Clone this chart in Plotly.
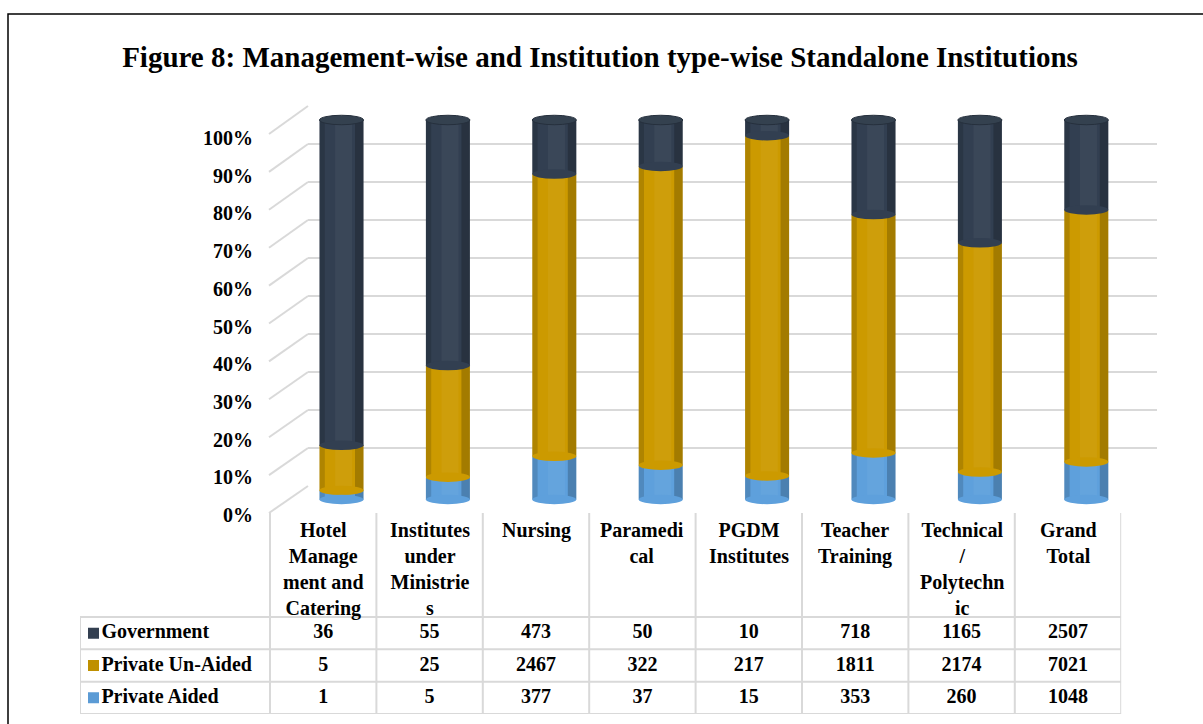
import plotly.graph_objects as go

# ---------------- data ----------------
categories = [
    "Hotel<br>Manage<br>ment and<br>Catering",
    "Institutes<br>under<br>Ministrie<br>s",
    "Nursing",
    "Paramedi<br>cal",
    "PGDM<br>Institutes",
    "Teacher<br>Training",
    "Technical<br>/<br>Polytechn<br>ic",
    "Grand<br>Total",
]
series_names = ["Government", "Private Un-Aided", "Private Aided"]
government = [36, 55, 473, 50, 10, 718, 1165, 2507]
private_unaided = [5, 25, 2467, 322, 217, 1811, 2174, 7021]
private_aided = [1, 5, 377, 37, 15, 353, 260, 1048]
pct_ticks = list(range(0, 101, 10))
pct_tick_labels = [f"{v}%" for v in pct_ticks]
title_text = "Figure 8: Management-wise and Institution type-wise Standalone Institutions"

# ---------------- styling / geometry ----------------
W, H = 1203, 724
FONT = "Liberation Serif"
bar_colors = {"Government": "#323F51", "Private Un-Aided": "#CC9A00", "Private Aided": "#5EA0DC"}
legend_colors = {"Government": "#333F50", "Private Un-Aided": "#BF9000", "Private Aided": "#5B9BD5"}
GRID = "#D9D9D9"


def fx(p):
    return p / W


def fy(p):
    return 1 - p / H


values = {"Government": government, "Private Un-Aided": private_unaided, "Private Aided": private_aided}
n = len(categories)
idx = list(range(n))
totals = [sum(values[s][i] for s in series_names) for i in idx]
pct = {s: [100.0 * values[s][i] / totals[i] for i in idx] for s in series_names}
stack_order = list(reversed(series_names))  # bottom -> top

# pixel geometry of the pseudo-3D chart
wall_left, wall_right = 308, 1157
wall_y0, wall_y100 = 486, 106
front_x = 269
front_y0, front_y100 = 513, 134
label_y0, label_y100 = 515, 138
bar_y0, bar_y100 = 499.5, 120
col_w = 106.4
table_left, table_first_col, table_top, table_hdr_bottom, table_bottom = 80, 270, 513, 617, 714
bar_center0 = 341.5
BW = 44 / col_w

fig = go.Figure()

# back wall (gridlines) subplot
fig.add_trace(go.Scatter(x=[], y=[], xaxis="x", yaxis="y", showlegend=False, hoverinfo="skip"))

# bars
cum = [0.0] * n
bases = {}
for s in stack_order:
    bases[s] = cum[:]
    fig.add_trace(go.Bar(
        x=idx, y=pct[s], base=cum[:], width=BW, marker=dict(color=bar_colors[s], line=dict(width=0)),
        xaxis="x2", yaxis="y2", showlegend=False, name=s, hoverinfo="skip"))
    # cylinder shading strips
    fig.add_trace(go.Bar(
        x=idx, y=pct[s], base=cum[:], width=0.05, offset=-BW / 2,
        marker=dict(color="rgba(0,0,0,0.14)", line=dict(width=0)),
        xaxis="x2", yaxis="y2", showlegend=False, hoverinfo="skip"))
    fig.add_trace(go.Bar(
        x=idx, y=pct[s], base=cum[:], width=0.08, offset=BW / 2 - 0.08,
        marker=dict(color="rgba(0,0,0,0.2)", line=dict(width=0)),
        xaxis="x2", yaxis="y2", showlegend=False, hoverinfo="skip"))
    fig.add_trace(go.Bar(
        x=idx, y=pct[s], base=cum[:], width=0.16, offset=-0.06,
        marker=dict(color="rgba(255,255,255,0.045)", line=dict(width=0)),
        xaxis="x2", yaxis="y2", showlegend=False, hoverinfo="skip"))
    cum = [cum[i] + pct[s][i] for i in idx]

# front-plane percentage labels
fig.add_trace(go.Scatter(x=[], y=[], xaxis="x2", yaxis="y3", showlegend=False, hoverinfo="skip"))

# table: values
for k, s in enumerate(series_names):
    row_y = len(series_names) - k - 0.5
    fig.add_trace(go.Scatter(
        x=idx, y=[row_y] * n, text=[str(v) for v in values[s]], mode="text",
        textfont=dict(family=FONT, size=20, color="black", weight="bold"),
        xaxis="x4", yaxis="y4", showlegend=False, hoverinfo="skip"))

x4_min = -0.5 - (table_first_col - table_left) / col_w
row_px = (table_bottom - table_hdr_bottom) / len(series_names)
y4_max = len(series_names) + (table_hdr_bottom - table_top) / row_px
marker_x = x4_min + 13.5 / col_w
for k, s in enumerate(series_names):
    row_y = len(series_names) - k - 0.5
    fig.add_trace(go.Scatter(
        x=[marker_x], y=[row_y], text=[s], mode="markers+text", textposition="middle right",
        marker=dict(symbol="square", size=11, color=legend_colors[s]),
        textfont=dict(family=FONT, size=20, color="black", weight="bold"),
        xaxis="x4", yaxis="y4", showlegend=False, hoverinfo="skip"))

shapes = []
# outer border
shapes.append(dict(type="rect", xref="paper", yref="paper", x0=fx(8), x1=fx(1215), y0=fy(740), y1=fy(14),
                   line=dict(color="black", width=1.5), fillcolor="rgba(0,0,0,0)", layer="below"))
# diagonal perspective lines at each tick
for v in pct_ticks:
    yf = front_y0 + (front_y100 - front_y0) * v / 100
    yb = wall_y0 + (wall_y100 - wall_y0) * v / 100
    shapes.append(dict(type="line", xref="paper", yref="paper", x0=fx(front_x), y0=fy(yf),
                       x1=fx(wall_left), y1=fy(yb), line=dict(color=GRID, width=2), layer="below"))

# cylinder ellipses
eh = 1.25
for i in idx:
    for j in range(1, len(stack_order)):
        s_up = stack_order[j]
        b = bases[s_up][i]
        if pct[s_up][i] > 0:
            shapes.append(dict(type="circle", xref="x2", yref="y2", x0=i - BW / 2, x1=i + BW / 2,
                               y0=b - eh, y1=b + eh, fillcolor=bar_colors[s_up], line=dict(width=0)))
    shapes.append(dict(type="circle", xref="x2", yref="y2", x0=i - BW / 2, x1=i + BW / 2,
                       y0=-eh, y1=eh, fillcolor=bar_colors[stack_order[0]], line=dict(width=0)))
    shapes.append(dict(type="circle", xref="x2", yref="y2", x0=i - BW / 2, x1=i + BW / 2,
                       y0=100 - eh, y1=100 + eh, fillcolor="#34414F",
                       line=dict(color="#26303D", width=1)))

# table lines
for r in range(len(series_names) + 1):
    shapes.append(dict(type="line", xref="x4", yref="y4", x0=x4_min, x1=n - 0.5, y0=r, y1=r,
                       line=dict(color=GRID, width=2)))
shapes.append(dict(type="line", xref="x4", yref="y4", x0=x4_min, x1=x4_min, y0=0, y1=len(series_names),
                   line=dict(color=GRID, width=2)))
for j in range(n + 1):
    shapes.append(dict(type="line", xref="x4", yref="y4", x0=j - 0.5, x1=j - 0.5, y0=0, y1=y4_max,
                       line=dict(color=GRID, width=2)))

annotations = []
for i, c in enumerate(categories):
    annotations.append(dict(x=i, y=y4_max - 0.12, xref="x4", yref="y4", text=c, showarrow=False,
                            yanchor="top", xanchor="center", align="center",
                            font=dict(family=FONT, size=20, color="black", weight="bold")))

bar_pad = 2.5
bar_px_per_unit = (bar_y0 - bar_y100) / 100
fig.update_layout(
    template="none",
    width=W, height=H, margin=dict(l=0, r=0, t=0, b=0, pad=0, autoexpand=False),
    paper_bgcolor="white", plot_bgcolor="rgba(0,0,0,0)",
    barmode="overlay", showlegend=False,
    title=dict(text=title_text, x=fx(600), y=fy(57), xanchor="center", yanchor="middle",
               font=dict(family=FONT, size=29, color="black", weight="bold")),
    xaxis=dict(domain=[fx(wall_left), fx(wall_right)], range=[0, 1], visible=False, fixedrange=True,
               automargin=False),
    yaxis=dict(domain=[fy(wall_y0), fy(wall_y100)], range=[-0.01, 100.01], tickvals=pct_ticks,
               showgrid=True, gridcolor=GRID, gridwidth=2, zeroline=False, showticklabels=False,
               ticks="", showline=False, fixedrange=True, automargin=False),
    xaxis2=dict(domain=[fx(bar_center0 - col_w / 2), fx(bar_center0 - col_w / 2 + n * col_w)],
                range=[-0.5, n - 0.5], visible=False, fixedrange=True, automargin=False),
    yaxis2=dict(domain=[fy(bar_y0 + bar_px_per_unit * bar_pad), fy(bar_y100 - bar_px_per_unit * bar_pad)],
                range=[-bar_pad, 100 + bar_pad], visible=False, fixedrange=True, automargin=False),
    yaxis3=dict(domain=[fy(label_y0), fy(label_y100)], range=[0, 100], anchor="free", position=fx(253),
                side="left", tickvals=pct_ticks, ticktext=pct_tick_labels, showgrid=False, zeroline=False,
                showline=False, ticks="", tickfont=dict(family=FONT, size=20, color="black", weight="bold"),
                fixedrange=True, automargin=False),
    xaxis4=dict(domain=[fx(table_left), fx(table_first_col + n * col_w)], range=[x4_min, n - 0.5],
                visible=False, fixedrange=True, automargin=False),
    yaxis4=dict(domain=[fy(table_bottom), fy(table_top)], range=[0, y4_max], visible=False, fixedrange=True,
                automargin=False),
    shapes=shapes,
    annotations=annotations,
)

fig.write_html(
    "out.html",
    config={"displayModeBar": False},
    post_script="document.body.style.margin='0';document.body.style.padding='0';document.body.style.overflow='hidden';",
)
